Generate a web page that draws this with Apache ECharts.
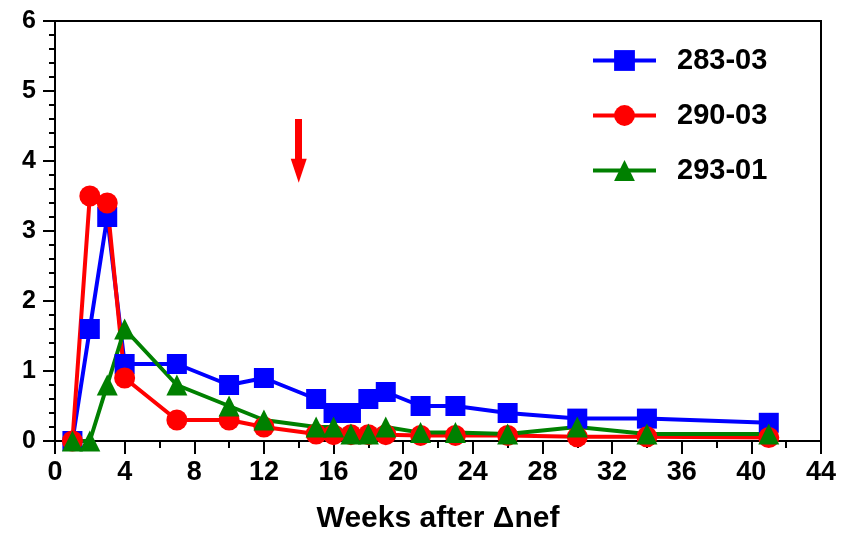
<!DOCTYPE html>
<html>
<head>
<meta charset="utf-8">
<script src="https://cdn.jsdelivr.net/npm/echarts@6/dist/echarts.min.js"></script>
<style>
  html, body { margin: 0; padding: 0; background: #fff; }
  #chart { width: 858px; height: 538px; }
</style>
</head>
<body>
<div id="chart"></div>
<script>
// Sampling times (weeks after Δnef)
const weeks = [1, 2, 3, 4, 7, 10, 12, 15, 16, 17, 18, 19, 21, 23, 26, 30, 34, 41];

// Per-animal values
const animal28303 = [0, 1.6, 3.2, 1.1, 1.1, 0.8, 0.9, 0.6, 0.4, 0.4, 0.6, 0.7, 0.5, 0.5, 0.4, 0.32, 0.32, 0.26];
const animal29003 = [0, 3.5, 3.4, 0.9, 0.3, 0.3, 0.2, 0.1, 0.09, 0.09, 0.09, 0.09, 0.08, 0.08, 0.08, 0.06, 0.06, 0.05];
const animal29301 = [0, 0, 0.8, 1.6, 0.8, 0.5, 0.3, 0.2, 0.2, 0.1, 0.1, 0.2, 0.12, 0.12, 0.1, 0.2, 0.1, 0.1];

const seriesNames = ['283-03', '290-03', '293-01'];

// Event marker at week 14: shaft top and arrow-head centre (y units)
const arrowWeek = 14;
const arrowFrom = 4.6;
const arrowTo = 3.86;

const FONT = '"Liberation Sans", Arial, Helvetica, sans-serif';

function pairs(ys) {
  return weeks.map((w, i) => [w, ys[i]]);
}

function lineSeries(name, ys, color, symbol, size) {
  return {
    name: name,
    type: 'line',
    data: pairs(ys),
    symbol: symbol,
    symbolSize: size,
    showAllSymbol: true,
    lineStyle: { color: color, width: 4 },
    itemStyle: { color: color },
    emphasis: { disabled: true },
    animation: false
  };
}

const chart = echarts.init(document.getElementById('chart'), null, { renderer: 'canvas' });

const s1 = lineSeries(seriesNames[0], animal28303, '#0000ff', 'rect', 20);
const s2 = lineSeries(seriesNames[1], animal29003, '#ff0000', 'circle', 21);
const s3 = lineSeries(seriesNames[2], animal29301, '#008000', 'triangle', 21);

s2.markLine = {
  silent: true,
  animation: false,
  symbol: ['none', 'triangle'],
  symbolSize: [16, 24],
  label: { show: false },
  lineStyle: { color: '#ff0000', width: 7, type: 'solid' },
  emphasis: { disabled: true },
  data: [[{ coord: [arrowWeek, arrowFrom] }, { coord: [arrowWeek, arrowTo] }]]
};

chart.setOption({
  backgroundColor: '#ffffff',
  animation: false,
  grid: {
    left: 55, right: 37, top: 21, bottom: 97,
    outerBoundsMode: 'none',
    containLabel: false,
    show: true, borderColor: '#000', borderWidth: 2, backgroundColor: 'transparent'
  },
  legend: {
    left: 586, top: 41,
    orient: 'vertical',
    itemWidth: 63, itemHeight: 26,
    itemGap: 26,
    data: seriesNames,
    lineStyle: { width: 4 },
    textStyle: {
      fontFamily: FONT, fontWeight: 'bold', fontSize: 29, color: '#000',
      lineHeight: 29, padding: [0, 0, 0, 16]
    },
    selectedMode: false
  },
  xAxis: {
    type: 'value',
    min: 0, max: 44, interval: 4,
    name: 'Weeks after Δnef',
    nameLocation: 'middle',
    nameGap: 63,
    nameTextStyle: { fontFamily: FONT, fontWeight: 'bold', fontSize: 30, color: '#000' },
    axisLine: { onZero: false, lineStyle: { color: '#000', width: 2 } },
    axisTick: { show: true, inside: false, length: 13, lineStyle: { color: '#000', width: 2 } },
    minorTick: { show: true, splitNumber: 2, length: 7, lineStyle: { color: '#000', width: 2 } },
    axisLabel: { fontFamily: FONT, fontWeight: 'bold', fontSize: 27, color: '#000', margin: 18 },
    splitLine: { show: false }
  },
  yAxis: {
    type: 'value',
    min: 0, max: 6, interval: 1,
    axisLine: { onZero: false, lineStyle: { color: '#000', width: 2 } },
    axisTick: { show: true, inside: false, length: 12, lineStyle: { color: '#000', width: 2 } },
    minorTick: { show: true, splitNumber: 5, length: 6, lineStyle: { color: '#000', width: 2 } },
    axisLabel: { fontFamily: FONT, fontWeight: 'bold', fontSize: 25, color: '#000', margin: 19 },
    splitLine: { show: false }
  },
  series: [s1, s2, s3]
});
</script>
</body>
</html>
